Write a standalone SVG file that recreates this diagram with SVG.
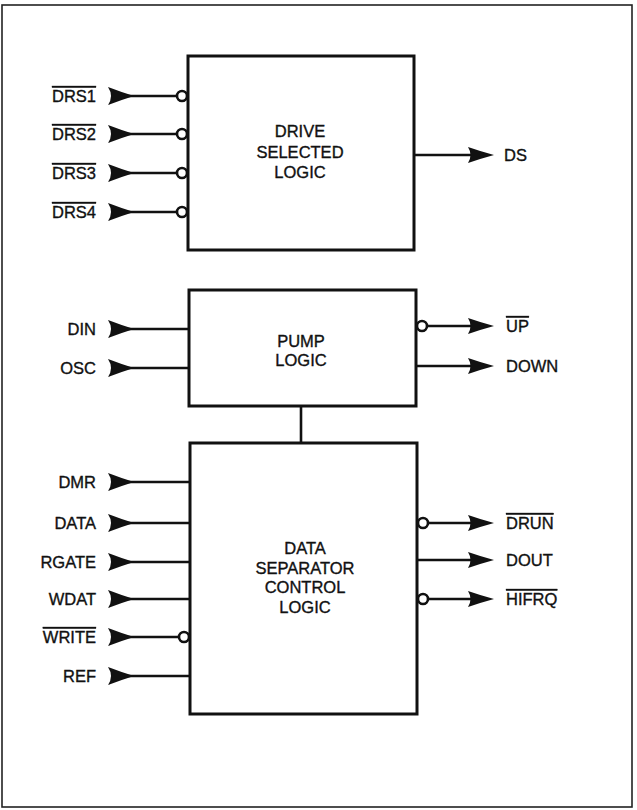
<svg xmlns="http://www.w3.org/2000/svg" xmlns:xlink="http://www.w3.org/1999/xlink" width="637" height="810" viewBox="0 0 637 810">
<style>
.box{fill:#fff;stroke:#111;stroke-width:3}
.w{stroke:#111;stroke-width:2.6;fill:none}
.bub{fill:#fff;stroke:#111;stroke-width:2.6}
.ah{fill:#111}
text{font-family:"Liberation Sans",Arial,Helvetica,sans-serif;font-size:16.5px;fill:#111;stroke:#111;stroke-width:0.35}
.l{text-anchor:end}
.c{text-anchor:middle}
.ov{text-decoration:overline}
</style>
<defs>
<path id="inA" d="M-24,-9 Q-11,-4 2,0 Q-11,4 -24,9 Q-18,0 -24,-9 Z"/>
<path id="outA" d="M-26,-8 Q-13,-3.5 0,0 Q-13,3.5 -26,8 Q-21,0 -26,-8 Z"/>
</defs>
<rect x="0" y="0" width="637" height="810" fill="#fff"/>
<rect x="2" y="5" width="630" height="802" fill="none" stroke="#222" stroke-width="1.6"/>

<g id="drive-selected-logic">
<rect class="box" x="188" y="56" width="226" height="194"/>
<text class="c" x="300" y="137">DRIVE</text>
<text class="c" x="300" y="158">SELECTED</text>
<text class="c" x="300" y="177.5">LOGIC</text>
</g>
<g id="pump-logic">
<rect class="box" x="189" y="290" width="227" height="116"/>
<text class="c" x="301" y="347">PUMP</text>
<text class="c" x="301" y="366">LOGIC</text>
</g>
<g id="data-separator-control-logic">
<rect class="box" x="190" y="443" width="227" height="271"/>
<text class="c" x="305" y="554">DATA</text>
<text class="c" x="305" y="573.5">SEPARATOR</text>
<text class="c" x="305" y="593">CONTROL</text>
<text class="c" x="305" y="612.5">LOGIC</text>
</g>

<g id="connectors">
<line class="w" x1="301" y1="406" x2="301" y2="443"/>
<line class="w" x1="128" y1="96" x2="177" y2="96"/><use class="ah" href="#inA" x="132" y="96"/><circle class="bub" cx="182" cy="96" r="5"/>
<line class="w" x1="128" y1="134" x2="177" y2="134"/><use class="ah" href="#inA" x="132" y="134"/><circle class="bub" cx="182" cy="134" r="5"/>
<line class="w" x1="128" y1="173" x2="177" y2="173"/><use class="ah" href="#inA" x="132" y="173"/><circle class="bub" cx="182" cy="173" r="5"/>
<line class="w" x1="128" y1="212" x2="177" y2="212"/><use class="ah" href="#inA" x="132" y="212"/><circle class="bub" cx="182" cy="212" r="5"/>
<line class="w" x1="128" y1="329" x2="189" y2="329"/><use class="ah" href="#inA" x="132" y="329"/>
<line class="w" x1="128" y1="368" x2="189" y2="368"/><use class="ah" href="#inA" x="132" y="368"/>
<line class="w" x1="128" y1="482" x2="190" y2="482"/><use class="ah" href="#inA" x="132" y="482"/>
<line class="w" x1="128" y1="523" x2="190" y2="523"/><use class="ah" href="#inA" x="132" y="523"/>
<line class="w" x1="128" y1="562" x2="190" y2="562"/><use class="ah" href="#inA" x="132" y="562"/>
<line class="w" x1="128" y1="599" x2="190" y2="599"/><use class="ah" href="#inA" x="132" y="599"/>
<line class="w" x1="128" y1="637" x2="179" y2="637"/><use class="ah" href="#inA" x="132" y="637"/><circle class="bub" cx="184" cy="637" r="5"/>
<line class="w" x1="128" y1="676" x2="190" y2="676"/><use class="ah" href="#inA" x="132" y="676"/>
<line class="w" x1="414" y1="155" x2="472" y2="155"/><use class="ah" href="#outA" x="494" y="155"/>
<circle class="bub" cx="422" cy="326" r="5"/><line class="w" x1="427" y1="326" x2="472" y2="326"/><use class="ah" href="#outA" x="494" y="326"/>
<line class="w" x1="416" y1="366" x2="472" y2="366"/><use class="ah" href="#outA" x="494" y="366"/>
<circle class="bub" cx="423" cy="523" r="5"/><line class="w" x1="428" y1="523" x2="472" y2="523"/><use class="ah" href="#outA" x="494" y="523"/>
<line class="w" x1="417" y1="560" x2="472" y2="560"/><use class="ah" href="#outA" x="494" y="560"/>
<circle class="bub" cx="423" cy="599" r="5"/><line class="w" x1="428" y1="599" x2="472" y2="599"/><use class="ah" href="#outA" x="494" y="599"/>
</g>

<g id="labels">
<text class="l ov" x="96" y="102">DRS1</text>
<text class="l ov" x="96" y="140">DRS2</text>
<text class="l ov" x="96" y="179">DRS3</text>
<text class="l ov" x="96" y="218">DRS4</text>
<text class="l" x="96" y="335">DIN</text>
<text class="l" x="96" y="374">OSC</text>
<text class="l" x="96" y="488">DMR</text>
<text class="l" x="96" y="529">DATA</text>
<text class="l" x="96" y="568">RGATE</text>
<text class="l" x="96" y="605">WDAT</text>
<text class="l ov" x="96" y="643">WRITE</text>
<text class="l" x="96" y="682">REF</text>
<text x="504" y="161">DS</text>
<text class="ov" x="506" y="332">UP</text>
<text x="506" y="372">DOWN</text>
<text class="ov" x="506" y="529">DRUN</text>
<text x="506" y="566">DOUT</text>
<text class="ov" x="506" y="605">HIFRQ</text>
</g>
</svg>
